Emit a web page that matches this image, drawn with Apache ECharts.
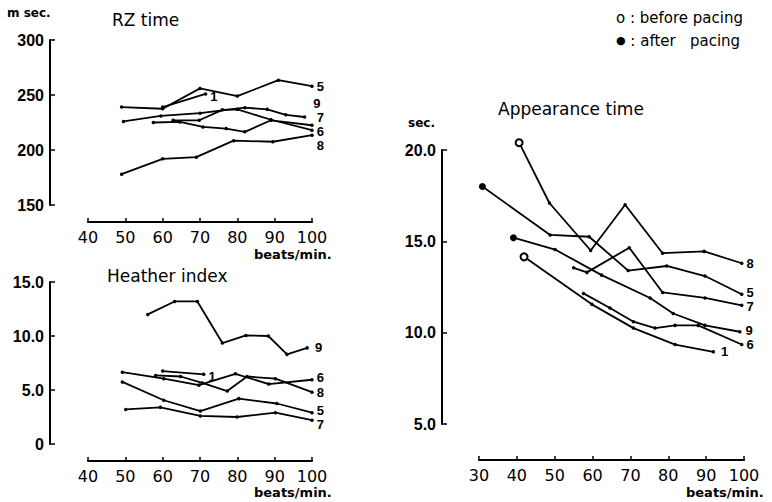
<!DOCTYPE html>
<html>
<head>
<meta charset="utf-8">
<script src="https://cdn.jsdelivr.net/npm/echarts@6/dist/echarts.min.js"></script>
<style>html,body{margin:0;padding:0;background:#fff}#c{width:772px;height:502px}</style>
</head>
<body>
<div id="c"></div>
<script>
// ---------- DATA ----------
// RZ time (msec) vs heart rate (beats/min)
const rzNames = ['5', '1', '9', '7', '6', '8'];
const rz5 = [[49, 239], [60, 237.5], [70, 256], [80, 249], [91, 263.5], [100, 258]];
const rz1 = [[60, 239], [71.5, 251]];
const rz9 = [[49.5, 226], [59.5, 231], [70, 233.5], [82, 238.5], [88, 237], [93, 232], [98, 230]];
const rz7 = [[57.5, 225], [64.6, 225.5], [70.8, 221], [77, 219.5], [82, 216.5], [89, 227], [100, 222.5]];
const rz6 = [[62.8, 227], [69.8, 227], [76, 236.5], [80, 237], [89, 227.5], [100, 218]];
const rz8 = [[49, 178], [60, 192], [69, 193.5], [79, 208.5], [89.5, 207.5], [100, 213.5]];

// Heather index vs heart rate
const hiNames = ['9', '1', '6', '8', '5', '7'];
const hi9 = [[56, 12.0], [63.2, 13.2], [69.3, 13.2], [76, 9.35], [82.3, 10.05], [88.3, 10.0], [93.3, 8.3], [98.7, 8.9]];
const hi1 = [[60, 6.75], [71, 6.45]];
const hi6 = [[49.2, 6.65], [60.3, 6.05], [69.7, 5.45], [79.5, 6.5], [88.4, 5.55], [100, 5.95]];
const hi8 = [[58.1, 6.35], [64.8, 6.25], [70.6, 5.65], [77.3, 4.9], [82.6, 6.25], [90.2, 6.05], [100, 4.8]];
const hi5 = [[49.2, 5.75], [60.3, 4.05], [70.1, 3.05], [80.4, 4.2], [90.6, 3.75], [100, 2.9]];
const hi7 = [[50.1, 3.2], [59.4, 3.4], [70.1, 2.6], [79.9, 2.5], [90.2, 2.9], [100, 2.2]];

// Appearance time (sec) vs heart rate
const apNames = ['8', '5', '7', '9', '6', '1'];
const ap8 = [[40.6, 20.4], [48.6, 17.1], [59.5, 14.5], [68.6, 17.0], [78.5, 14.35], [89.5, 14.45], [99.4, 13.8]];
const ap5 = [[30.9, 18.0], [48.8, 15.35], [59.1, 15.25], [69.4, 13.4], [79.6, 13.65], [89.7, 13.1], [99.4, 12.1]];
const ap7 = [[55, 13.55], [58.5, 13.3], [69.7, 14.65], [78.5, 12.2], [89.7, 11.9], [99.4, 11.5]];
const ap9 = [[39.1, 15.2], [50.1, 14.55], [62.4, 13.15], [75.2, 11.9], [81.3, 11.05], [89.7, 10.4], [98.9, 10.05]];
const ap6 = [[57.6, 12.15], [64.6, 11.35], [70.8, 10.6], [76.5, 10.25], [81.8, 10.4], [87.9, 10.4], [99.4, 9.35]];
const ap1 = [[41.9, 14.15], [59.8, 11.55], [70.8, 10.25], [81.8, 9.35], [91.9, 8.95]];
// start-point marker type in appearance panel: 'open' = before pacing, 'filled' = after pacing
const apStart = {'8': 'open', '5': 'filled', '9': 'filled', '1': 'open'};

// axis ranges / tick steps
const rzY = [150, 300, 50];
const hiY = [0, 15, 5];
const apY = [5, 20, 5];
const rateX = [40, 100, 10];
const apX = [30, 100, 10];

// ---------- STYLE / LAYOUT ----------
const labelOffsets = {
  rz: {'5': [0, 0], '1': [0, 3], '9': [4, -14], '7': [0, -8], '6': [0, 1], '8': [0, 10]},
  hi: {'9': [3, 0], '1': [0, 2], '6': [0, -2], '8': [0, 0], '5': [0, -2], '7': [0, 4]},
  ap: {'8': [0, 0], '5': [0, -2], '7': [0, 1], '9': [1, -1], '6': [0, 0], '1': [3, 0]}
};

function mkSeries(name, data, gi, panel) {
  const last = data.length - 1;
  const off = (labelOffsets[panel] || {})[name] || [0, 0];
  const d = data.map((p, i) => {
    const item = {value: p};
    if (i === last) {
      item.label = {show: true, formatter: name, position: 'right', distance: 3, offset: off,
        color: '#000', fontSize: 13, fontWeight: 'bold', fontFamily: 'Liberation Sans'};
    }
    if (i === 0 && panel === 'ap' && apStart[name]) {
      item.symbolSize = 7;
      item.itemStyle = apStart[name] === 'open'
        ? {color: '#fff', borderColor: '#000', borderWidth: 2}
        : {color: '#000'};
    }
    return item;
  });
  return {
    type: 'line', name: name, xAxisIndex: gi, yAxisIndex: gi, data: d,
    symbol: 'circle', symbolSize: 3.5, showSymbol: true, clip: false,
    lineStyle: {color: '#000', width: 1.8},
    itemStyle: {color: '#000'},
    emphasis: {disabled: true},
    animation: false, z: 3
  };
}

const axisCommon = {
  type: 'value',
  axisLine: {show: true, onZero: false, lineStyle: {color: '#000', width: 2}},
  axisTick: {show: true, inside: true, length: 4, lineStyle: {color: '#000', width: 1.5}},
  splitLine: {show: false}
};
function xAx(gi, r, off) {
  return Object.assign({}, axisCommon, {
    gridIndex: gi, min: r[0], max: r[1], interval: r[2], offset: off,
    axisLabel: {color: '#000', fontSize: 16, fontFamily: 'DejaVu Sans', margin: 7}
  });
}
function yAx(gi, r, off, fmt) {
  return Object.assign({}, axisCommon, {
    gridIndex: gi, min: r[0], max: r[1], interval: r[2], offset: off,
    axisTick: {show: true, inside: true, length: 5, lineStyle: {color: '#000', width: 1.5}},
    axisLabel: {color: '#000', fontSize: 16, fontWeight: 'bold', fontFamily: 'Liberation Sans', margin: 6, formatter: fmt}
  });
}
const fmt1 = v => (v === 0 ? '0' : v.toFixed(1));

const txt = (text, left, top, size, weight, rich) => ({
  text: text, left: left, top: top, padding: 0,
  textStyle: {color: '#000', fontSize: size, fontWeight: weight || 'normal', fontFamily: 'DejaVu Sans', rich: rich}
});

const series = [];
[rz5, rz1, rz9, rz7, rz6, rz8].forEach((d, i) => series.push(mkSeries(rzNames[i], d, 0, 'rz')));
[hi9, hi1, hi6, hi8, hi5, hi7].forEach((d, i) => series.push(mkSeries(hiNames[i], d, 1, 'hi')));
[ap8, ap5, ap7, ap9, ap6, ap1].forEach((d, i) => series.push(mkSeries(apNames[i], d, 2, 'ap')));

const option = {
  backgroundColor: '#fff',
  animation: false,
  title: [
    txt('m sec.', 7, 7, 12, 'bold'),
    txt('RZ time', 112, 11, 17),
    txt('beats/min.', 254, 248, 13, 'bold'),
    txt('Heather index', 107, 267, 17),
    txt('beats/min.', 254, 486, 13, 'bold'),
    txt('Appearance time', 498, 100, 17),
    txt('sec.', 408, 117, 12, 'bold'),
    txt('beats/min.', 686, 486, 13, 'bold'),
    txt('o : before pacing', 616, 10, 15),
    txt('{d|\u25CF} : after   pacing', 616, 33, 15, 'normal', {d: {fontSize: 11, color: '#000', fontFamily: 'DejaVu Sans'}})
  ],
  grid: [
    {left: 88, top: 40, width: 224, height: 165},
    {left: 88, top: 282, width: 224, height: 162},
    {left: 479, top: 150, width: 265, height: 274}
  ],
  xAxis: [xAx(0, rateX, 17), xAx(1, rateX, 17), xAx(2, apX, 36)],
  yAxis: [yAx(0, rzY, 38), yAx(1, hiY, 38, fmt1), yAx(2, apY, 37, fmt1)],
  series: series
};

const chart = echarts.init(document.getElementById('c'), null, {renderer: 'svg'});
chart.setOption(option);
</script>
</body>
</html>
